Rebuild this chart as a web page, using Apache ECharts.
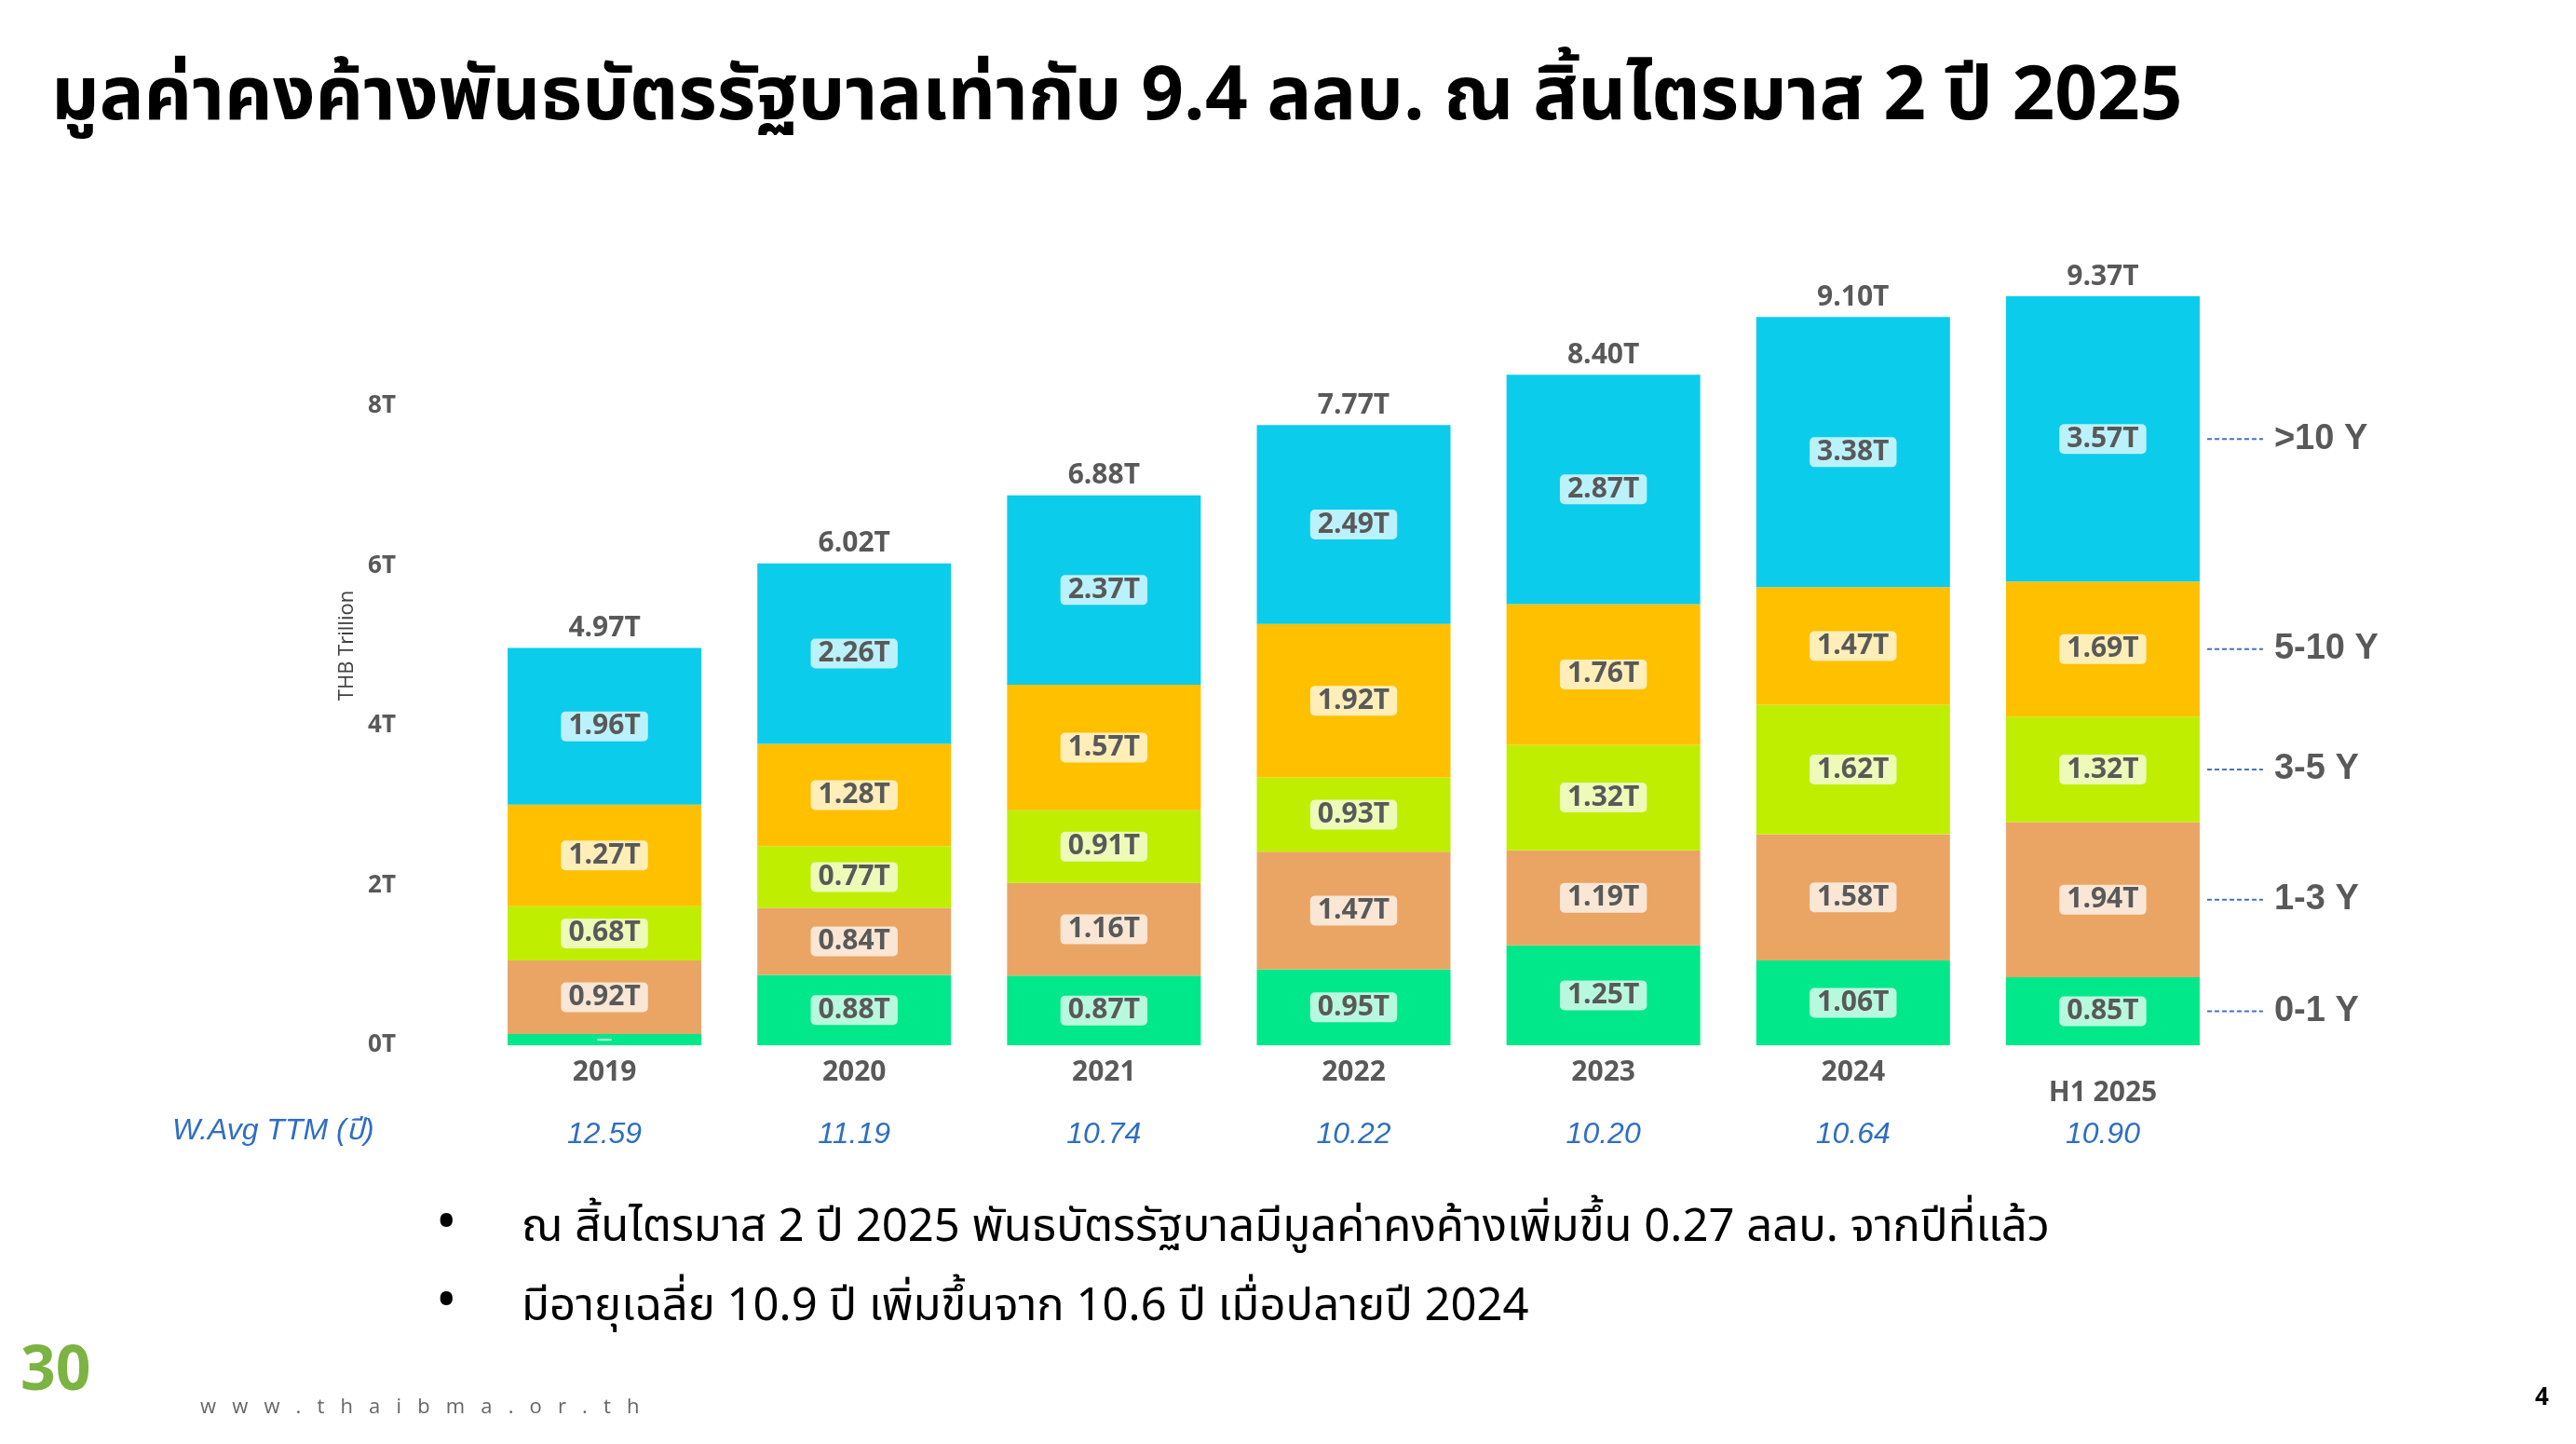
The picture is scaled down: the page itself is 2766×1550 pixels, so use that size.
<!DOCTYPE html>
<html><head><meta charset="utf-8">
<script src="https://cdn.jsdelivr.net/npm/echarts@6/dist/echarts.min.js"></script>
<style>html,body{margin:0;padding:0;background:#fff}#c{width:2766px;height:1550px}</style>
</head><body><div id="c"></div>
<script>
const categories = ["2019","2020","2021","2022","2023","2024","H1 2025"];
const ttm = ["12.59","11.19","10.74","10.22","10.20","10.64","10.90"];
const totals = ["4.97T","6.02T","6.88T","7.77T","8.40T","9.10T","9.37T"];
const s0_1 = [0.14,0.88,0.87,0.95,1.25,1.06,0.85];
const s1_3 = [0.92,0.84,1.16,1.47,1.19,1.58,1.94];
const s3_5 = [0.68,0.77,0.91,0.93,1.32,1.62,1.32];
const s5_10 = [1.27,1.28,1.57,1.92,1.76,1.47,1.69];
const s10 = [1.96,2.26,2.37,2.49,2.87,3.38,3.57];
const seriesNames = ["0-1 Y","1-3 Y","3-5 Y","5-10 Y",">10 Y"];
const yTicks = ["0T","2T","4T","6T","8T"];

const colors = ["#00E88A","#EAA564","#BFEE00","#FFC000","#0CCCEB"];
const FONT = "'Open Sans','Noto Sans',sans-serif";
const THAI = "'Noto Sans Thai','Noto Sans','Liberation Sans',sans-serif";
const chart = echarts.init(document.getElementById('c'));
const segs = [s0_1,s1_3,s3_5,s5_10,s10];
const series = segs.map((d,i)=>({
  name: seriesNames[i], type:'bar', stack:'a', barWidth:208, data:d,
  itemStyle:{color:colors[i]},
  label:{show:true, position:'inside', fontFamily:FONT, fontWeight:'bold', fontSize:30, color:'#595959',
    backgroundColor:'rgba(255,255,255,0.72)', borderRadius:5, padding:[2,8,0,8],
    formatter:p=> p.value<0.3 ? '' : p.value.toFixed(2)+'T'}
}));
series.push({type:'bar', stack:'a', barWidth:208, data:totals.map(()=>0), itemStyle:{color:'transparent'},
  label:{show:true, position:'top', distance:6, fontFamily:FONT, fontWeight:'bold', fontSize:30, color:'#595959',
    formatter:p=>totals[p.dataIndex]}});

chart.setOption({
  animation:false,
  grid:{left:515, right:374, top:264, bottom:428},
  xAxis:[{type:'category', data:categories, axisLine:{show:false}, axisTick:{show:false},
    axisLabel:{fontFamily:FONT, fontWeight:'bold', fontSize:30, color:'#595959', margin:14,
      formatter:v=> v==='H1 2025' ? '\n{h|'+v+'}' : v, rich:{h:{fontFamily:FONT, fontWeight:'bold', fontSize:30, color:'#595959', lineHeight:14}}}},
    {type:'category', data:ttm, position:'bottom', offset:72, axisLine:{show:false}, axisTick:{show:false},
    axisLabel:{fontFamily:"'Liberation Sans',Arial,sans-serif", fontStyle:'italic', fontSize:32, color:'#2F6EC2'}}],
  yAxis:{type:'value', min:0, max:10, interval:2, splitLine:{show:false},
    name:'THB Trillion', nameLocation:'middle', nameGap:130, nameRotate:90,
    nameTextStyle:{fontFamily:FONT, fontSize:22, color:'#404040'},
    axisLabel:{margin:90, fontFamily:FONT, fontWeight:'bold', fontSize:26, color:'#595959',
      formatter:v=> v%2===0 && v/2<yTicks.length ? yTicks[v/2] : ''}},
  series:series
});

const graphics = [
  {type:'text', left:55, top:72, style:{text:'มูลค่าคงค้างพันธบัตรรัฐบาลเท่ากับ 9.4 ลลบ. ณ สิ้นไตรมาส 2 ปี 2025', fontFamily:THAI, fontWeight:'bold', fontSize:80, fill:'#000'}},
  {type:'text', left:185, top:1198, style:{text:'W.Avg TTM (ปี)', fontFamily:"'Liberation Sans',"+THAI, fontStyle:'italic', fontSize:32, fill:'#2F6EC2'}},
  {type:'text', left:468, top:1290, style:{text:'•', fontSize:60, fill:'#000', fontFamily:THAI}},
  {type:'text', left:560, top:1298, style:{text:'ณ สิ้นไตรมาส 2 ปี 2025 พันธบัตรรัฐบาลมีมูลค่าคงค้างเพิ่มขึ้น 0.27 ลลบ. จากปีที่แล้ว', fontSize:49, fill:'#000', fontFamily:THAI}},
  {type:'text', left:468, top:1374, style:{text:'•', fontSize:60, fill:'#000', fontFamily:THAI}},
  {type:'text', left:560, top:1383, style:{text:'มีอายุเฉลี่ย 10.9 ปี เพิ่มขึ้นจาก 10.6 ปี เมื่อปลายปี 2024', fontSize:49, fill:'#000', fontFamily:THAI}},
  {type:'text', left:22, top:1440, style:{text:'30', fontSize:66, fontWeight:'bold', fill:'#7CB342', fontFamily:FONT}},
  {type:'text', left:215, top:1500, style:{text:'w   w   w   .   t   h   a   i   b   m   a   .   o   r   .   t   h', fontSize:22, fill:'#666', fontFamily:FONT}},
  {type:'text', left:2722, top:1488, style:{text:'4', fontSize:26, fontWeight:'bold', fill:'#000', fontFamily:FONT}}
];

const last = categories.length-1;
let cum = 0;
segs.forEach((d,i)=>{
  const mid = cum + d[last]/2; cum += d[last];
  const p = chart.convertToPixel({xAxisIndex:0,yAxisIndex:0},[last,mid]);
  const x0 = p[0]+104+8;
  graphics.push({type:'line', shape:{x1:x0, y1:p[1], x2:x0+60, y2:p[1]}, style:{stroke:'#4472C4', lineWidth:2, lineDash:[5,3]}});
  graphics.push({type:'text', x:x0+72, y:p[1], style:{text:seriesNames[i], fontFamily:"'Liberation Sans',Arial,sans-serif", fontWeight:'bold', fontSize:38, fill:'#595959', verticalAlign:'middle'}});
});
chart.setOption({graphic:graphics});
</script></body></html>
